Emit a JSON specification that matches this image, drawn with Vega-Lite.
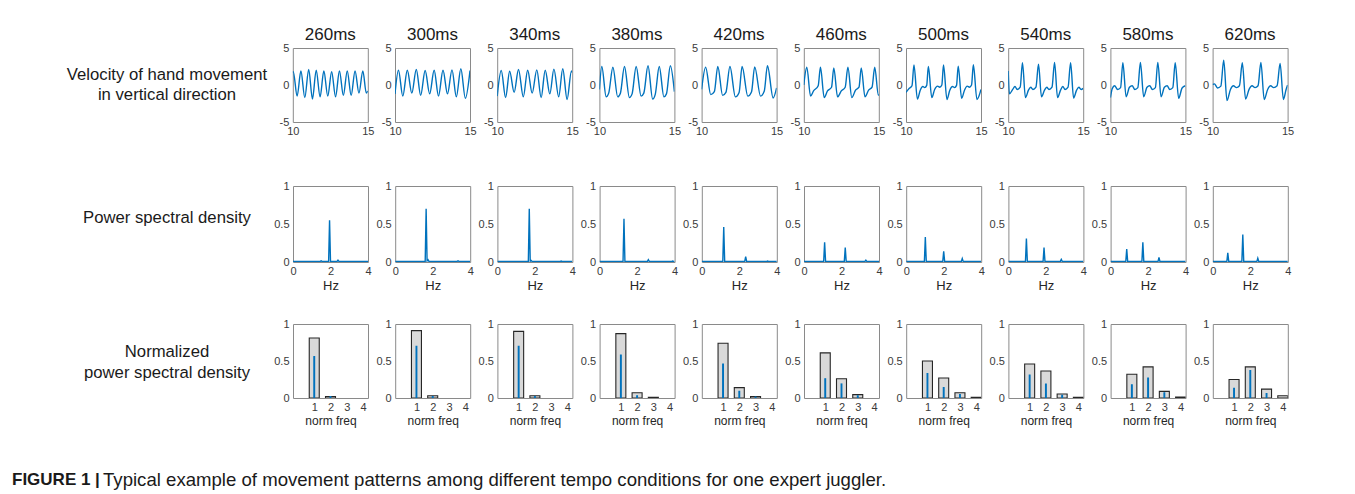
{
  "$schema": "https://vega.github.io/schema/vega-lite/v6.json",
  "background": "white",
  "padding": {"left": 12, "top": 26, "right": 5, "bottom": 0},
  "config": {
    "font": "Liberation Sans",
    "view": {"stroke": "#8a8a8a", "strokeWidth": 1},
    "axis": {"domain": false, "ticks": false, "grid": false, "labelFontSize": 11, "labelColor": "#3a3a3a", "labelPadding": 4, "titleFontWeight": "normal", "titleColor": "#262626", "labelFont": "Liberation Sans", "titleFont": "Liberation Sans", "labelExpr": "'' + datum.value"},
    "axisX": {"labelPadding": 3, "labelFlush": false},
    "header": {"labelFont": "Liberation Sans", "labelFontSize": 17, "labelColor": "#1a1a1a", "labelPadding": 4}
  },
  "datasets": {
    "vel": [
      {"tempo":"260ms","t":10.00,"v":1.7},{"tempo":"260ms","t":10.03,"v":1.8},{"tempo":"260ms","t":10.29,"v":-1.5},{"tempo":"260ms","t":10.54,"v":1.9},{"tempo":"260ms","t":10.80,"v":-1.7},{"tempo":"260ms","t":11.06,"v":2.1},{"tempo":"260ms","t":11.31,"v":-1.9},{"tempo":"260ms","t":11.56,"v":2.0},{"tempo":"260ms","t":11.82,"v":-1.6},{"tempo":"260ms","t":12.07,"v":1.9},{"tempo":"260ms","t":12.33,"v":-1.5},{"tempo":"260ms","t":12.59,"v":1.8},{"tempo":"260ms","t":12.85,"v":-1.6},{"tempo":"260ms","t":13.11,"v":1.9},{"tempo":"260ms","t":13.37,"v":-1.4},{"tempo":"260ms","t":13.63,"v":1.9},{"tempo":"260ms","t":13.89,"v":-1.4},{"tempo":"260ms","t":14.15,"v":1.9},{"tempo":"260ms","t":14.41,"v":-1.1},{"tempo":"260ms","t":14.67,"v":1.9},{"tempo":"260ms","t":14.90,"v":-1.1},{"tempo":"260ms","t":15.00,"v":-0.8},
      {"tempo":"300ms","t":10.00,"v":-1.2},{"tempo":"300ms","t":10.23,"v":2.0},{"tempo":"300ms","t":10.52,"v":-1.5},{"tempo":"300ms","t":10.82,"v":2.0},{"tempo":"300ms","t":11.12,"v":-1.1},{"tempo":"300ms","t":11.42,"v":2.1},{"tempo":"300ms","t":11.71,"v":-1.4},{"tempo":"300ms","t":12.01,"v":1.95},{"tempo":"300ms","t":12.31,"v":-1.2},{"tempo":"300ms","t":12.61,"v":2.0},{"tempo":"300ms","t":12.90,"v":-1.5},{"tempo":"300ms","t":13.20,"v":2.0},{"tempo":"300ms","t":13.50,"v":-1.2},{"tempo":"300ms","t":13.80,"v":2.05},{"tempo":"300ms","t":14.09,"v":-1.6},{"tempo":"300ms","t":14.39,"v":2.2},{"tempo":"300ms","t":14.69,"v":-1.8},{"tempo":"300ms","t":15.00,"v":1.95},
      {"tempo":"340ms","t":10.00,"v":-1.5},{"tempo":"340ms","t":10.27,"v":1.95},{"tempo":"340ms","t":10.56,"v":-1.7},{"tempo":"340ms","t":10.83,"v":1.85},{"tempo":"340ms","t":11.13,"v":-1.0},{"tempo":"340ms","t":11.42,"v":2.1},{"tempo":"340ms","t":11.74,"v":-1.6},{"tempo":"340ms","t":12.03,"v":2.0},{"tempo":"340ms","t":12.33,"v":-1.1},{"tempo":"340ms","t":12.64,"v":2.05},{"tempo":"340ms","t":12.93,"v":-1.7},{"tempo":"340ms","t":13.20,"v":2.0},{"tempo":"340ms","t":13.51,"v":-1.2},{"tempo":"340ms","t":13.78,"v":2.15},{"tempo":"340ms","t":14.10,"v":-1.6},{"tempo":"340ms","t":14.37,"v":2.2},{"tempo":"340ms","t":14.66,"v":-1.95},{"tempo":"340ms","t":14.95,"v":1.9},{"tempo":"340ms","t":15.00,"v":1.7},
      {"tempo":"380ms","t":10.00,"v":-0.6},{"tempo":"380ms","t":10.16,"v":2.5},{"tempo":"380ms","t":10.45,"v":-1.6},{"tempo":"380ms","t":10.62,"v":-1.1},{"tempo":"380ms","t":10.90,"v":2.4},{"tempo":"380ms","t":11.22,"v":-1.6},{"tempo":"380ms","t":11.40,"v":-1.1},{"tempo":"380ms","t":11.67,"v":2.5},{"tempo":"380ms","t":12.00,"v":-1.7},{"tempo":"380ms","t":12.18,"v":-1.2},{"tempo":"380ms","t":12.45,"v":2.5},{"tempo":"380ms","t":12.78,"v":-1.5},{"tempo":"380ms","t":12.96,"v":-1.1},{"tempo":"380ms","t":13.24,"v":2.6},{"tempo":"380ms","t":13.55,"v":-1.9},{"tempo":"380ms","t":13.72,"v":-1.3},{"tempo":"380ms","t":13.99,"v":2.5},{"tempo":"380ms","t":14.30,"v":-1.6},{"tempo":"380ms","t":14.47,"v":-1.2},{"tempo":"380ms","t":14.73,"v":2.6},{"tempo":"380ms","t":15.00,"v":-0.9},
      {"tempo":"420ms","t":10.00,"v":-0.6},{"tempo":"420ms","t":10.27,"v":2.4},{"tempo":"420ms","t":10.61,"v":-1.3},{"tempo":"420ms","t":10.85,"v":-0.9},{"tempo":"420ms","t":11.08,"v":2.5},{"tempo":"420ms","t":11.40,"v":-1.4},{"tempo":"420ms","t":11.62,"v":-1.0},{"tempo":"420ms","t":11.89,"v":2.5},{"tempo":"420ms","t":12.25,"v":-1.6},{"tempo":"420ms","t":12.50,"v":-1.0},{"tempo":"420ms","t":12.70,"v":2.5},{"tempo":"420ms","t":13.08,"v":-1.5},{"tempo":"420ms","t":13.33,"v":-0.9},{"tempo":"420ms","t":13.54,"v":2.45},{"tempo":"420ms","t":13.93,"v":-1.5},{"tempo":"420ms","t":14.18,"v":-0.8},{"tempo":"420ms","t":14.39,"v":2.6},{"tempo":"420ms","t":14.77,"v":-1.75},{"tempo":"420ms","t":15.00,"v":-0.4},
      {"tempo":"460ms","t":10.00,"v":0.0},{"tempo":"460ms","t":10.20,"v":2.4},{"tempo":"460ms","t":10.45,"v":-1.5},{"tempo":"460ms","t":10.65,"v":-0.8},{"tempo":"460ms","t":10.96,"v":-0.1},{"tempo":"460ms","t":11.11,"v":2.4},{"tempo":"460ms","t":11.36,"v":-1.7},{"tempo":"460ms","t":11.58,"v":-0.8},{"tempo":"460ms","t":11.85,"v":-0.3},{"tempo":"460ms","t":12.00,"v":2.3},{"tempo":"460ms","t":12.25,"v":-1.6},{"tempo":"460ms","t":12.50,"v":-0.8},{"tempo":"460ms","t":12.76,"v":-0.3},{"tempo":"460ms","t":12.94,"v":2.4},{"tempo":"460ms","t":13.20,"v":-1.7},{"tempo":"460ms","t":13.45,"v":-0.7},{"tempo":"460ms","t":13.68,"v":-0.3},{"tempo":"460ms","t":13.83,"v":2.3},{"tempo":"460ms","t":14.08,"v":-1.6},{"tempo":"460ms","t":14.32,"v":-0.7},{"tempo":"460ms","t":14.55,"v":-0.3},{"tempo":"460ms","t":14.73,"v":2.4},{"tempo":"460ms","t":14.97,"v":-1.4},{"tempo":"460ms","t":15.00,"v":-1.2},
      {"tempo":"500ms","t":10.00,"v":-1.0},{"tempo":"500ms","t":10.22,"v":-0.45},{"tempo":"500ms","t":10.40,"v":-0.1},{"tempo":"500ms","t":10.53,"v":2.7},{"tempo":"500ms","t":10.76,"v":-1.9},{"tempo":"500ms","t":10.95,"v":-0.7},{"tempo":"500ms","t":11.12,"v":-0.2},{"tempo":"500ms","t":11.25,"v":-0.35},{"tempo":"500ms","t":11.38,"v":-0.05},{"tempo":"500ms","t":11.49,"v":2.5},{"tempo":"500ms","t":11.72,"v":-1.7},{"tempo":"500ms","t":11.91,"v":-0.6},{"tempo":"500ms","t":12.10,"v":-0.15},{"tempo":"500ms","t":12.25,"v":-0.3},{"tempo":"500ms","t":12.39,"v":0.0},{"tempo":"500ms","t":12.50,"v":2.7},{"tempo":"500ms","t":12.73,"v":-1.95},{"tempo":"500ms","t":12.92,"v":-0.7},{"tempo":"500ms","t":13.10,"v":-0.2},{"tempo":"500ms","t":13.24,"v":-0.35},{"tempo":"500ms","t":13.37,"v":-0.05},{"tempo":"500ms","t":13.48,"v":2.55},{"tempo":"500ms","t":13.71,"v":-1.8},{"tempo":"500ms","t":13.90,"v":-0.7},{"tempo":"500ms","t":14.08,"v":-0.15},{"tempo":"500ms","t":14.23,"v":-0.3},{"tempo":"500ms","t":14.37,"v":0.0},{"tempo":"500ms","t":14.49,"v":2.75},{"tempo":"500ms","t":14.73,"v":-1.95},{"tempo":"500ms","t":15.00,"v":-0.6},
      {"tempo":"540ms","t":10.00,"v":1.9},{"tempo":"540ms","t":10.08,"v":-1.2},{"tempo":"540ms","t":10.30,"v":-0.6},{"tempo":"540ms","t":10.45,"v":-0.2},{"tempo":"540ms","t":10.60,"v":-0.6},{"tempo":"540ms","t":10.80,"v":-0.3},{"tempo":"540ms","t":10.95,"v":3.0},{"tempo":"540ms","t":11.15,"v":-1.7},{"tempo":"540ms","t":11.35,"v":-0.7},{"tempo":"540ms","t":11.50,"v":-0.3},{"tempo":"540ms","t":11.65,"v":-0.6},{"tempo":"540ms","t":11.85,"v":-0.3},{"tempo":"540ms","t":12.02,"v":2.8},{"tempo":"540ms","t":12.22,"v":-1.6},{"tempo":"540ms","t":12.42,"v":-0.7},{"tempo":"540ms","t":12.57,"v":-0.3},{"tempo":"540ms","t":12.72,"v":-0.6},{"tempo":"540ms","t":12.92,"v":-0.3},{"tempo":"540ms","t":13.09,"v":3.05},{"tempo":"540ms","t":13.29,"v":-1.7},{"tempo":"540ms","t":13.49,"v":-0.7},{"tempo":"540ms","t":13.64,"v":-0.2},{"tempo":"540ms","t":13.79,"v":-0.6},{"tempo":"540ms","t":13.99,"v":-0.3},{"tempo":"540ms","t":14.16,"v":3.0},{"tempo":"540ms","t":14.36,"v":-1.75},{"tempo":"540ms","t":14.56,"v":-0.7},{"tempo":"540ms","t":14.71,"v":-0.3},{"tempo":"540ms","t":14.86,"v":-0.6},{"tempo":"540ms","t":15.00,"v":-0.45},
      {"tempo":"580ms","t":10.00,"v":-1.7},{"tempo":"580ms","t":10.12,"v":-0.5},{"tempo":"580ms","t":10.28,"v":-0.1},{"tempo":"580ms","t":10.48,"v":-0.6},{"tempo":"580ms","t":10.68,"v":-0.35},{"tempo":"580ms","t":10.83,"v":3.0},{"tempo":"580ms","t":11.05,"v":-1.6},{"tempo":"580ms","t":11.27,"v":-0.3},{"tempo":"580ms","t":11.45,"v":-0.1},{"tempo":"580ms","t":11.63,"v":-0.6},{"tempo":"580ms","t":11.83,"v":-0.35},{"tempo":"580ms","t":12.00,"v":3.05},{"tempo":"580ms","t":12.22,"v":-1.6},{"tempo":"580ms","t":12.44,"v":-0.3},{"tempo":"580ms","t":12.62,"v":-0.1},{"tempo":"580ms","t":12.80,"v":-0.6},{"tempo":"580ms","t":13.00,"v":-0.35},{"tempo":"580ms","t":13.16,"v":3.05},{"tempo":"580ms","t":13.38,"v":-1.6},{"tempo":"580ms","t":13.60,"v":-0.3},{"tempo":"580ms","t":13.78,"v":-0.1},{"tempo":"580ms","t":13.96,"v":-0.6},{"tempo":"580ms","t":14.16,"v":-0.35},{"tempo":"580ms","t":14.32,"v":3.0},{"tempo":"580ms","t":14.55,"v":-1.8},{"tempo":"580ms","t":14.78,"v":-0.4},{"tempo":"580ms","t":15.00,"v":-0.1},
      {"tempo":"620ms","t":10.00,"v":0.05},{"tempo":"620ms","t":10.12,"v":0.15},{"tempo":"620ms","t":10.33,"v":-0.4},{"tempo":"620ms","t":10.55,"v":-0.15},{"tempo":"620ms","t":10.74,"v":3.35},{"tempo":"620ms","t":10.96,"v":-2.1},{"tempo":"620ms","t":11.19,"v":-0.6},{"tempo":"620ms","t":11.39,"v":-0.1},{"tempo":"620ms","t":11.59,"v":-0.35},{"tempo":"620ms","t":11.79,"v":-0.1},{"tempo":"620ms","t":11.98,"v":3.0},{"tempo":"620ms","t":12.20,"v":-1.9},{"tempo":"620ms","t":12.43,"v":-0.6},{"tempo":"620ms","t":12.63,"v":-0.1},{"tempo":"620ms","t":12.83,"v":-0.35},{"tempo":"620ms","t":13.03,"v":-0.1},{"tempo":"620ms","t":13.22,"v":3.05},{"tempo":"620ms","t":13.44,"v":-1.95},{"tempo":"620ms","t":13.67,"v":-0.6},{"tempo":"620ms","t":13.87,"v":-0.1},{"tempo":"620ms","t":14.07,"v":-0.35},{"tempo":"620ms","t":14.30,"v":-0.1},{"tempo":"620ms","t":14.50,"v":2.9},{"tempo":"620ms","t":14.72,"v":-1.95},{"tempo":"620ms","t":14.90,"v":-0.6},{"tempo":"620ms","t":15.00,"v":0.0}
    ],
    "psd": [
      {"tempo":"260ms","f":0,"p":0.008},{"tempo":"260ms","f":1.45,"p":0.008},{"tempo":"260ms","f":1.5,"p":0.015},{"tempo":"260ms","f":1.55,"p":0.008},{"tempo":"260ms","f":1.9,"p":0.008},{"tempo":"260ms","f":1.95,"p":0.55},{"tempo":"260ms","f":2.0,"p":0.008},{"tempo":"260ms","f":2.35,"p":0.008},{"tempo":"260ms","f":2.4,"p":0.025},{"tempo":"260ms","f":2.45,"p":0.008},{"tempo":"260ms","f":4,"p":0.008},
      {"tempo":"300ms","f":0,"p":0.008},{"tempo":"300ms","f":1.6,"p":0.008},{"tempo":"300ms","f":1.65,"p":0.70},{"tempo":"300ms","f":1.7,"p":0.015},{"tempo":"300ms","f":1.75,"p":0.03},{"tempo":"300ms","f":1.8,"p":0.008},{"tempo":"300ms","f":3.3,"p":0.008},{"tempo":"300ms","f":3.35,"p":0.015},{"tempo":"300ms","f":3.4,"p":0.008},{"tempo":"300ms","f":4,"p":0.008},
      {"tempo":"340ms","f":0,"p":0.008},{"tempo":"340ms","f":1.65,"p":0.008},{"tempo":"340ms","f":1.7,"p":0.70},{"tempo":"340ms","f":1.75,"p":0.01},{"tempo":"340ms","f":1.8,"p":0.02},{"tempo":"340ms","f":1.85,"p":0.008},{"tempo":"340ms","f":3.35,"p":0.008},{"tempo":"340ms","f":3.4,"p":0.012},{"tempo":"340ms","f":3.45,"p":0.008},{"tempo":"340ms","f":4,"p":0.008},
      {"tempo":"380ms","f":0,"p":0.008},{"tempo":"380ms","f":1.25,"p":0.008},{"tempo":"380ms","f":1.3,"p":0.57},{"tempo":"380ms","f":1.35,"p":0.008},{"tempo":"380ms","f":2.55,"p":0.008},{"tempo":"380ms","f":2.6,"p":0.03},{"tempo":"380ms","f":2.65,"p":0.008},{"tempo":"380ms","f":3.85,"p":0.008},{"tempo":"380ms","f":3.9,"p":0.012},{"tempo":"380ms","f":3.95,"p":0.008},{"tempo":"380ms","f":4,"p":0.008},
      {"tempo":"420ms","f":0,"p":0.008},{"tempo":"420ms","f":1.12,"p":0.008},{"tempo":"420ms","f":1.17,"p":0.46},{"tempo":"420ms","f":1.22,"p":0.008},{"tempo":"420ms","f":2.29,"p":0.008},{"tempo":"420ms","f":2.34,"p":0.07},{"tempo":"420ms","f":2.39,"p":0.008},{"tempo":"420ms","f":3.46,"p":0.008},{"tempo":"420ms","f":3.51,"p":0.012},{"tempo":"420ms","f":3.56,"p":0.008},{"tempo":"420ms","f":4,"p":0.008},
      {"tempo":"460ms","f":0,"p":0.008},{"tempo":"460ms","f":1.05,"p":0.008},{"tempo":"460ms","f":1.1,"p":0.26},{"tempo":"460ms","f":1.15,"p":0.008},{"tempo":"460ms","f":2.15,"p":0.008},{"tempo":"460ms","f":2.2,"p":0.19},{"tempo":"460ms","f":2.25,"p":0.008},{"tempo":"460ms","f":3.25,"p":0.008},{"tempo":"460ms","f":3.3,"p":0.025},{"tempo":"460ms","f":3.35,"p":0.008},{"tempo":"460ms","f":4,"p":0.008},
      {"tempo":"500ms","f":0,"p":0.008},{"tempo":"500ms","f":0.97,"p":0.008},{"tempo":"500ms","f":1.02,"p":0.33},{"tempo":"500ms","f":1.07,"p":0.008},{"tempo":"500ms","f":1.95,"p":0.008},{"tempo":"500ms","f":2.0,"p":0.14},{"tempo":"500ms","f":2.05,"p":0.008},{"tempo":"500ms","f":2.94,"p":0.008},{"tempo":"500ms","f":2.99,"p":0.045},{"tempo":"500ms","f":3.04,"p":0.008},{"tempo":"500ms","f":4,"p":0.008},
      {"tempo":"540ms","f":0,"p":0.008},{"tempo":"540ms","f":0.91,"p":0.008},{"tempo":"540ms","f":0.96,"p":0.31},{"tempo":"540ms","f":1.01,"p":0.008},{"tempo":"540ms","f":1.85,"p":0.008},{"tempo":"540ms","f":1.9,"p":0.19},{"tempo":"540ms","f":1.95,"p":0.008},{"tempo":"540ms","f":2.77,"p":0.008},{"tempo":"540ms","f":2.82,"p":0.035},{"tempo":"540ms","f":2.87,"p":0.008},{"tempo":"540ms","f":4,"p":0.008},
      {"tempo":"580ms","f":0,"p":0.008},{"tempo":"580ms","f":0.81,"p":0.008},{"tempo":"580ms","f":0.86,"p":0.17},{"tempo":"580ms","f":0.91,"p":0.008},{"tempo":"580ms","f":1.67,"p":0.008},{"tempo":"580ms","f":1.72,"p":0.26},{"tempo":"580ms","f":1.77,"p":0.008},{"tempo":"580ms","f":2.53,"p":0.008},{"tempo":"580ms","f":2.58,"p":0.06},{"tempo":"580ms","f":2.63,"p":0.008},{"tempo":"580ms","f":4,"p":0.008},
      {"tempo":"620ms","f":0,"p":0.008},{"tempo":"620ms","f":0.75,"p":0.008},{"tempo":"620ms","f":0.8,"p":0.12},{"tempo":"620ms","f":0.85,"p":0.008},{"tempo":"620ms","f":1.55,"p":0.008},{"tempo":"620ms","f":1.6,"p":0.36},{"tempo":"620ms","f":1.65,"p":0.008},{"tempo":"620ms","f":2.35,"p":0.008},{"tempo":"620ms","f":2.4,"p":0.05},{"tempo":"620ms","f":2.45,"p":0.008},{"tempo":"620ms","f":4,"p":0.008}
    ],
    "norm": [
      {"tempo":"260ms","kind":"bar","n":1,"y":0.81},{"tempo":"260ms","kind":"bar","n":2,"y":0.02},
      {"tempo":"300ms","kind":"bar","n":1,"y":0.91},{"tempo":"300ms","kind":"bar","n":2,"y":0.03},
      {"tempo":"340ms","kind":"bar","n":1,"y":0.90},{"tempo":"340ms","kind":"bar","n":2,"y":0.03},
      {"tempo":"380ms","kind":"bar","n":1,"y":0.87},{"tempo":"380ms","kind":"bar","n":2,"y":0.07},{"tempo":"380ms","kind":"bar","n":3,"y":0.01},
      {"tempo":"420ms","kind":"bar","n":1,"y":0.74},{"tempo":"420ms","kind":"bar","n":2,"y":0.14},{"tempo":"420ms","kind":"bar","n":3,"y":0.02},
      {"tempo":"460ms","kind":"bar","n":1,"y":0.61},{"tempo":"460ms","kind":"bar","n":2,"y":0.26},{"tempo":"460ms","kind":"bar","n":3,"y":0.045},
      {"tempo":"500ms","kind":"bar","n":1,"y":0.50},{"tempo":"500ms","kind":"bar","n":2,"y":0.27},{"tempo":"500ms","kind":"bar","n":3,"y":0.07},{"tempo":"500ms","kind":"bar","n":4,"y":0.01},
      {"tempo":"540ms","kind":"bar","n":1,"y":0.46},{"tempo":"540ms","kind":"bar","n":2,"y":0.365},{"tempo":"540ms","kind":"bar","n":3,"y":0.055},{"tempo":"540ms","kind":"bar","n":4,"y":0.01},
      {"tempo":"580ms","kind":"bar","n":1,"y":0.32},{"tempo":"580ms","kind":"bar","n":2,"y":0.42},{"tempo":"580ms","kind":"bar","n":3,"y":0.09},{"tempo":"580ms","kind":"bar","n":4,"y":0.012},
      {"tempo":"620ms","kind":"bar","n":1,"y":0.25},{"tempo":"620ms","kind":"bar","n":2,"y":0.42},{"tempo":"620ms","kind":"bar","n":3,"y":0.12},{"tempo":"620ms","kind":"bar","n":4,"y":0.03},
      {"tempo":"260ms","kind":"spike","n":1,"y":0.56},{"tempo":"260ms","kind":"spike","n":2,"y":0.02},
      {"tempo":"300ms","kind":"spike","n":1,"y":0.70},{"tempo":"300ms","kind":"spike","n":2,"y":0.02},
      {"tempo":"340ms","kind":"spike","n":1,"y":0.70},{"tempo":"340ms","kind":"spike","n":2,"y":0.02},
      {"tempo":"380ms","kind":"spike","n":1,"y":0.58},{"tempo":"380ms","kind":"spike","n":2,"y":0.03},
      {"tempo":"420ms","kind":"spike","n":1,"y":0.46},{"tempo":"420ms","kind":"spike","n":2,"y":0.09},{"tempo":"420ms","kind":"spike","n":3,"y":0.012},
      {"tempo":"460ms","kind":"spike","n":1,"y":0.26},{"tempo":"460ms","kind":"spike","n":2,"y":0.19},{"tempo":"460ms","kind":"spike","n":3,"y":0.03},
      {"tempo":"500ms","kind":"spike","n":1,"y":0.33},{"tempo":"500ms","kind":"spike","n":2,"y":0.14},{"tempo":"500ms","kind":"spike","n":3,"y":0.045},
      {"tempo":"540ms","kind":"spike","n":1,"y":0.31},{"tempo":"540ms","kind":"spike","n":2,"y":0.19},{"tempo":"540ms","kind":"spike","n":3,"y":0.035},
      {"tempo":"580ms","kind":"spike","n":1,"y":0.18},{"tempo":"580ms","kind":"spike","n":2,"y":0.27},{"tempo":"580ms","kind":"spike","n":3,"y":0.07},
      {"tempo":"620ms","kind":"spike","n":1,"y":0.13},{"tempo":"620ms","kind":"spike","n":2,"y":0.37},{"tempo":"620ms","kind":"spike","n":3,"y":0.06}
    ]
  },
  "spacing": 25,
  "vconcat": [
    {
      "spacing": 5.8,
      "hconcat": [
        {
          "width": 260, "height": 106,
          "view": {"stroke": null},
          "data": {"values": [{"label": "Velocity of hand movement\nin vertical direction"}]},
          "mark": {"type": "text", "lineBreak": "\n", "fontSize": 16.7, "lineHeight": 20, "dx": 25, "dy": -26, "color": "#1a1a1a", "align": "center", "baseline": "middle"},
          "encoding": {"text": {"field": "label"}}
        },
        {
          "data": {"name": "vel"},
          "facet": {"column": {"field": "tempo", "type": "nominal", "header": {"title": null}}},
          "spacing": 27.2,
          "bounds": "flush",
          "resolve": {"axis": {"y": "independent"}},
          "spec": {
            "width": 75, "height": 74,
            "mark": {"type": "line", "interpolate": "monotone", "color": "#0072BD", "strokeWidth": 1.4, "clip": true},
            "encoding": {
              "x": {"field": "t", "type": "quantitative", "scale": {"domain": [10, 15], "nice": false, "zero": false}, "axis": {"values": [10, 15], "title": null}},
              "y": {"field": "v", "type": "quantitative", "scale": {"domain": [-5, 5], "nice": false}, "axis": {"values": [-5, 0, 5], "title": null}}
            }
          }
        }
      ]
    },
    {
      "spacing": 1,
      "hconcat": [
        {
          "width": 260, "height": 76,
          "view": {"stroke": null},
          "data": {"values": [{"label": "Power spectral density"}]},
          "mark": {"type": "text", "fontSize": 16.7, "dx": 25, "dy": -6, "color": "#1a1a1a", "align": "center", "baseline": "middle"},
          "encoding": {"text": {"field": "label"}}
        },
        {
          "data": {"name": "psd"},
          "facet": {"column": {"field": "tempo", "type": "nominal", "header": null}},
          "spacing": 27.2,
          "bounds": "flush",
          "resolve": {"axis": {"y": "independent"}},
          "spec": {
            "width": 75, "height": 76,
            "mark": {"type": "line", "color": "#0072BD", "strokeWidth": 1.4, "clip": true},
            "encoding": {
              "x": {"field": "f", "type": "quantitative", "scale": {"domain": [0, 4], "nice": false}, "axis": {"values": [0, 2, 4], "title": "Hz", "titleFontSize": 13, "titlePadding": 3}},
              "y": {"field": "p", "type": "quantitative", "scale": {"domain": [0, 1], "nice": false}, "axis": {"values": [0, 0.5, 1], "title": null}}
            }
          }
        }
      ]
    },
    {
      "spacing": 1,
      "hconcat": [
        {
          "width": 260, "height": 74,
          "view": {"stroke": null},
          "data": {"values": [{"label": "Normalized\npower spectral density"}]},
          "mark": {"type": "text", "lineBreak": "\n", "fontSize": 16.7, "lineHeight": 21, "dx": 25, "dy": -9, "color": "#1a1a1a", "align": "center", "baseline": "middle"},
          "encoding": {"text": {"field": "label"}}
        },
        {
          "data": {"name": "norm"},
          "facet": {"column": {"field": "tempo", "type": "nominal", "header": null}},
          "spacing": 27.2,
          "bounds": "flush",
          "resolve": {"axis": {"y": "independent"}},
          "spec": {
            "width": 75, "height": 74,
            "mark": {"type": "bar", "orient": "vertical", "strokeWidth": 1.1, "clip": true},
            "encoding": {
              "x": {"field": "n", "type": "quantitative", "scale": {"domain": [0, 4], "nice": false}, "axis": {"values": [1, 2, 3, 4], "title": "norm freq", "titleFontSize": 12, "titlePadding": 3}},
              "y": {"field": "y", "type": "quantitative", "stack": null, "scale": {"domain": [0, 1], "nice": false}, "axis": {"values": [0, 0.5, 1], "title": null}},
              "fill": {"field": "kind", "type": "nominal", "scale": {"domain": ["bar", "spike"], "range": ["#d9d9d9", "#0072BD"]}, "legend": null},
              "stroke": {"field": "kind", "type": "nominal", "scale": {"domain": ["bar", "spike"], "range": ["#262626", "#0072BD"]}, "legend": null},
              "size": {"field": "kind", "type": "nominal", "scale": {"domain": ["bar", "spike"], "range": [10, 0.8]}, "legend": null}
            }
          }
        }
      ]
    },
    {
      "width": 1300, "height": 58,
      "view": {"stroke": null},
      "data": {"values": [{"a": "FIGURE 1 |", "b": "Typical example of movement patterns among different tempo conditions for one expert juggler."}]},
      "layer": [
        {"mark": {"type": "text", "x": 0, "align": "left", "baseline": "middle", "fontSize": 17, "fontWeight": "bold", "color": "#1a1a1a"}, "encoding": {"text": {"field": "a"}}},
        {"mark": {"type": "text", "x": 0, "dx": 91, "align": "left", "baseline": "middle", "fontSize": 18.6, "color": "#1a1a1a"}, "encoding": {"text": {"field": "b"}}}
      ]
    }
  ]
}
